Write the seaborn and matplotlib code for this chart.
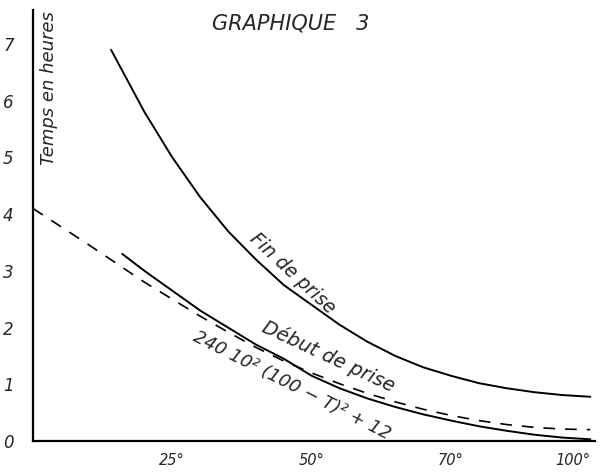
import numpy as np
import pandas as pd
import matplotlib
matplotlib.use('Agg')
import matplotlib.pyplot as plt
import seaborn as sns

# ---------- data (temperature in degrees, time in hours) ----------
fin_T = [14, 20, 25, 30, 35, 40, 45, 50, 55, 60, 65, 70, 75, 80, 85, 90, 95, 100]
fin_h = [6.9, 5.8, 5.0, 4.3, 3.7, 3.2, 2.75, 2.4, 2.05, 1.75, 1.5, 1.3, 1.15, 1.02, 0.93, 0.86, 0.81, 0.78]

debut_T = [16, 20, 25, 30, 35, 40, 45, 50, 55, 60, 65, 70, 75, 80, 85, 90, 95, 100]
debut_h = [3.3, 3.0, 2.65, 2.3, 2.0, 1.7, 1.45, 1.15, 0.93, 0.75, 0.6, 0.47, 0.36, 0.26, 0.18, 0.11, 0.06, 0.03]

formule_T = [0, 5, 10, 15, 20, 25, 30, 35, 40, 45, 50, 55, 60, 65, 70, 75, 80, 85, 90, 95, 100]
formule_h = [4.1, 3.78, 3.46, 3.13, 2.8, 2.5, 2.2, 1.92, 1.65, 1.41, 1.2, 1.01, 0.84, 0.69, 0.56,
             0.45, 0.36, 0.29, 0.24, 0.21, 0.2]

y_ticks = [0, 1, 2, 3, 4, 5, 6, 7]
x_ticks = [25, 50, 75, 100]
x_labels = ['25°', '50°', '70°', '100°']

fin = pd.DataFrame({'T': fin_T, 'h': fin_h})
debut = pd.DataFrame({'T': debut_T, 'h': debut_h})
formule = pd.DataFrame({'T': formule_T, 'h': formule_h})

# ---------- plot ----------
sns.set_style('white')
plt.rcParams['font.family'] = ['DejaVu Sans']

fig = plt.figure(figsize=(6.06, 4.72), dpi=100)
ax = fig.add_axes([0.0545, 0.0657, 0.927, 0.913])

sns.lineplot(data=fin, x='T', y='h', ax=ax, color='black', lw=1.4)
sns.lineplot(data=debut, x='T', y='h', ax=ax, color='black', lw=1.4)
sns.lineplot(data=formule, x='T', y='h', ax=ax, color='black', lw=1.2, linestyle=(0, (7, 6)))

ax.set_xlim(0, 100.8)
ax.set_ylim(0, 7.6)
ax.set_xlabel('')
ax.set_ylabel('')

for s in ['top', 'right']:
    ax.spines[s].set_visible(False)
for s in ['left', 'bottom']:
    ax.spines[s].set_color('black')
    ax.spines[s].set_linewidth(1.6)

ax.set_yticks(y_ticks)
ax.set_yticklabels([str(v) for v in y_ticks], fontsize=12, style='italic')
ax.set_xticks(x_ticks)
ax.set_xticklabels(x_labels, fontsize=10.5, style='italic')
ax.tick_params(axis='y', direction='out', length=4, width=1.2, pad=10)
ax.tick_params(axis='x', direction='inout', length=6, width=1.2, pad=6)
# last x label sits at the right edge: nudge it left so it stays in the picture
ax.get_xticklabels()[-1].set_horizontalalignment('right')
ax.get_xticklabels()[-1].set_x(100.8)

# texts
fig.text(0.479, 0.951, 'GRAPHIQUE   3', ha='center', va='center', fontsize=15, style='italic')
ax.text(2.8, 7.58, 'Temps en heures', rotation=90, ha='center', va='top', fontsize=13, style='italic')
ax.text(46.5, 2.95, 'Fin de prise', rotation=-43, ha='center', va='center', fontsize=13.5, style='italic')
ax.text(53, 1.5, 'Début de prise', rotation=-25, ha='center', va='center', fontsize=14, style='italic')
ax.text(46.5, 0.98, '240 10² (100 − T)² + 12', rotation=-27, ha='center', va='center',
        fontsize=13, style='italic')

fig.savefig('out.png', dpi=100)
